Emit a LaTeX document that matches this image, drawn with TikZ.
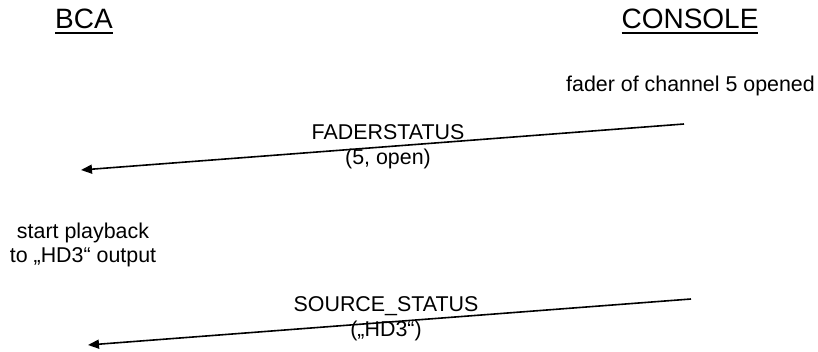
\documentclass[tikz,border=0pt]{standalone}
\usepackage{fontspec}
\setmainfont{Liberation Sans}
\usetikzlibrary{arrows.meta}

% party heading with a heavy rule under it
\newcommand{\partyname}[1]{\setbox0\hbox{#1}\rlap{\vrule height -4pt depth 6pt width \wd0}\box0}

\tikzset{
  party/.style={font=\fontsize{28}{34}\selectfont, inner sep=0pt, anchor=base},
  note/.style={font=\fontsize{21.4}{24.5}\selectfont, inner sep=0pt, align=center, anchor=base},
  msg/.style={line width=1.6pt, -{Triangle[length=11pt,width=9pt]}}
}

\begin{document}
\begin{tikzpicture}[x=1pt,y=-1pt]
    \useasboundingbox (0,0) rectangle (818,351);

    \node[party] (bca) at (84,28) {\partyname{BCA}};
    \node[party] (con) at (690,28) {\partyname{CONSOLE}};

    % two-line notes sit on the baseline of their last line
    \node[note] (fader) at (690.5,91) {fader of channel 5 opened};
    \node[note] (play) at (83,262.5) {start playback\\to „HD3“ output};

    \coordinate (c1) at (684,124);
    \coordinate (b1) at (81,170);
    \coordinate (c2) at (691,299);
    \coordinate (b2) at (88,345);

    \node[note] (fs) at (388,164) {FADERSTATUS\\(5, open)};
    \node[note] (ss) at (386,336) {SOURCE\_STATUS\\(„HD3“)};

    \draw[msg] (c1) -- (b1);
    \draw[msg] (c2) -- (b2);
  \end{tikzpicture}
\end{document}
